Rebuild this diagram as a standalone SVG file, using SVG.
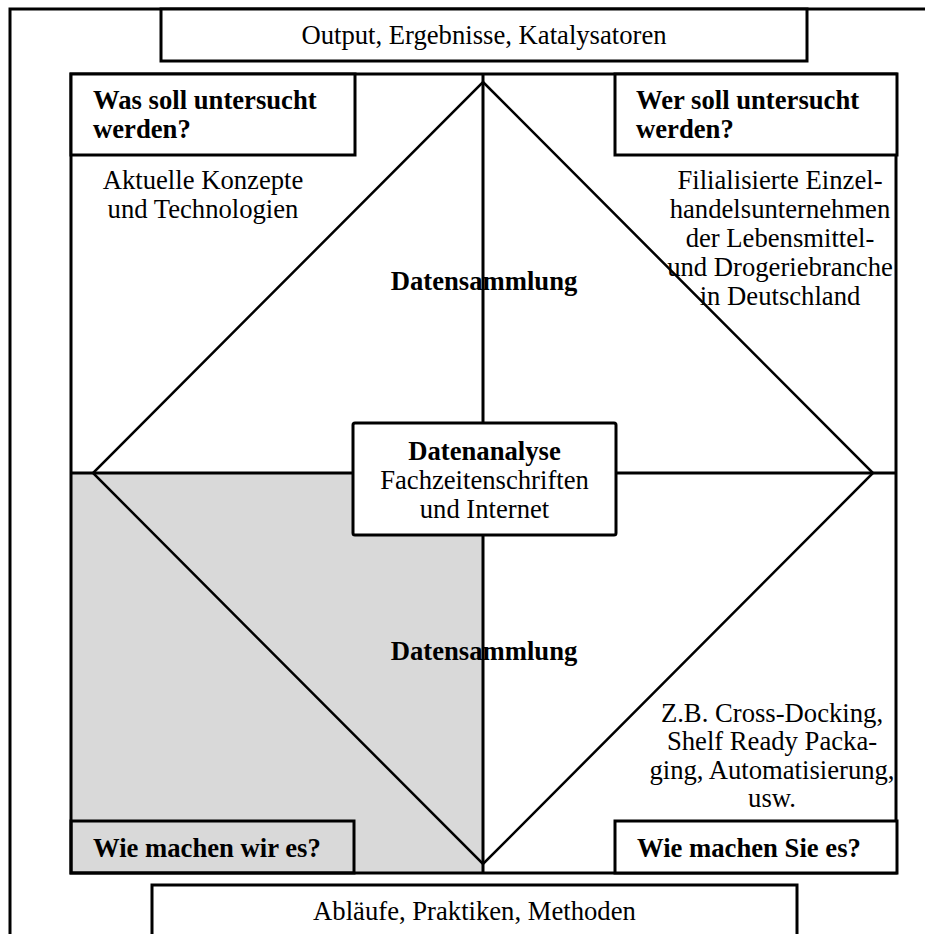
<svg xmlns="http://www.w3.org/2000/svg" width="925" height="934" viewBox="0 0 925 934">
<style>
text{font-family:"Liberation Serif","Times New Roman",serif;font-size:26.67px;fill:#000}
.b{font-weight:bold}
.c{text-anchor:middle}
.box{fill:#fff;stroke:#000;stroke-width:3}
.ob{fill:none;stroke:#000;stroke-width:3}
.ln{stroke:#000;stroke-width:3;fill:none}
.dg{stroke:#000;stroke-width:2.5;fill:none}
</style>
<rect x="0" y="0" width="925" height="934" fill="#fff"/>
<g id="frame">
<rect x="10" y="9" width="940" height="950" class="ob"/>
</g>
<g id="main">
<rect x="71" y="74" width="825" height="799" fill="#fff"/>
<rect x="71" y="473" width="412" height="400" fill="#d9d9d9"/>
</g>
<g id="connectors">
<line x1="483" y1="74" x2="483" y2="873" class="ln"/>
<line x1="71" y1="473" x2="896" y2="473" class="ln"/>
<polygon points="483,82 873,473 483,864 93,473" class="dg"/>
</g>
<g id="square">
<rect x="71" y="74" width="825" height="799" class="ob"/>
</g>
<g id="output">
<rect x="161" y="9" width="646" height="52" class="box"/>
<text x="484" y="44" class="c">Output, Ergebnisse, Katalysatoren</text>
</g>
<g id="was">
<rect x="71" y="74" width="284" height="81" class="box"/>
<text x="93" y="109" class="b">Was soll untersucht</text>
<text x="93" y="138" class="b">werden?</text>
</g>
<g id="wer">
<rect x="615" y="74" width="282" height="81" class="box"/>
<text x="636" y="109" class="b">Wer soll untersucht</text>
<text x="636" y="138" class="b">werden?</text>
</g>
<g id="aktuelle">
<text x="203" y="189" class="c">Aktuelle Konzepte</text>
<text x="203" y="218" class="c">und Technologien</text>
</g>
<g id="filial">
<text x="780" y="189" class="c">Filialisierte Einzel-</text>
<text x="780" y="218" class="c">handelsunternehmen</text>
<text x="780" y="247" class="c">der Lebensmittel-</text>
<text x="780" y="276" class="c">und Drogeriebranche</text>
<text x="780" y="305" class="c">in Deutschland</text>
</g>
<g id="datensammlung1">
<text x="484" y="290" class="c b">Datensammlung</text>
</g>
<g id="datenanalyse">
<rect x="353" y="423" width="263" height="112" rx="2" class="box"/>
<text x="484.5" y="460" class="c b">Datenanalyse</text>
<text x="484.5" y="489" class="c">Fachzeitenschriften</text>
<text x="484.5" y="518" class="c">und Internet</text>
</g>
<g id="datensammlung2">
<text x="484" y="660" class="c b">Datensammlung</text>
</g>
<g id="beispiele">
<text x="772" y="722" class="c">Z.B. Cross-Docking,</text>
<text x="772" y="750" class="c">Shelf Ready Packa-</text>
<text x="772" y="779" class="c">ging, Automatisierung,</text>
<text x="772" y="807" class="c">usw.</text>
</g>
<g id="wir">
<rect x="71" y="821" width="283" height="52" class="ob"/>
<text x="93" y="857" class="b">Wie machen wir es?</text>
</g>
<g id="sie">
<rect x="615" y="821" width="282" height="52" class="box"/>
<text x="637" y="857" class="b">Wie machen Sie es?</text>
</g>
<g id="ablaeufe">
<rect x="152" y="885" width="645" height="60" class="box"/>
<text x="474.5" y="920" class="c">Abläufe, Praktiken, Methoden</text>
</g>
</svg>
